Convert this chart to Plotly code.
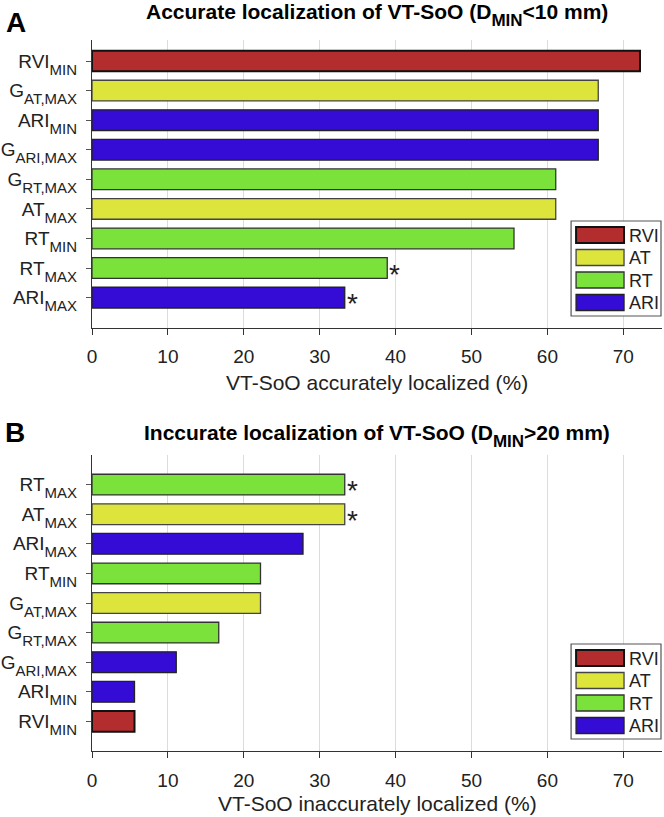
import plotly.graph_objects as go

# ---------------- data ----------------
top_names = [("RVI", "MIN"), ("G", "AT,MAX"), ("ARI", "MIN"), ("G", "ARI,MAX"),
             ("G", "RT,MAX"), ("AT", "MAX"), ("RT", "MIN"), ("RT", "MAX"), ("ARI", "MAX")]
top_values = [72.2, 66.7, 66.7, 66.7, 61.1, 61.1, 55.6, 38.9, 33.3]
top_groups = ["RVI", "AT", "ARI", "ARI", "RT", "AT", "RT", "RT", "ARI"]
top_sig = [False, False, False, False, False, False, False, True, True]

bot_names = [("RT", "MAX"), ("AT", "MAX"), ("ARI", "MAX"), ("RT", "MIN"), ("G", "AT,MAX"),
             ("G", "RT,MAX"), ("G", "ARI,MAX"), ("ARI", "MIN"), ("RVI", "MIN")]
bot_values = [33.3, 33.3, 27.8, 22.2, 22.2, 16.7, 11.1, 5.6, 5.6]
bot_groups = ["RT", "AT", "ARI", "RT", "AT", "RT", "ARI", "ARI", "RVI"]
bot_sig = [True, True, False, False, False, False, False, False, False]

legend_groups = ["RVI", "AT", "RT", "ARI"]
x_ticks = [0, 10, 20, 30, 40, 50, 60, 70]

top_title = ("Accurate localization of VT-SoO (D", "MIN", "<10 mm)")
bot_title = ("Inccurate localization of VT-SoO (D", "MIN", ">20 mm)")
top_xlabel = "VT-SoO accurately localized (%)"
bot_xlabel = "VT-SoO inaccurately localized (%)"

# ---------------- styles ----------------
colors = {"RVI": "#B32D2F", "AT": "#DDE53C", "RT": "#7AE23A", "ARI": "#340CD6"}
edge = {"RVI": "#111111", "AT": "#444444", "RT": "#333333", "ARI": "#222222"}
edgew = {"RVI": 2.0, "AT": 1.3, "RT": 1.3, "ARI": 1.3}
FONT = "Liberation Sans"


def subtxt(main, sub, sub_px=15, shift=-7, tail=""):
    return (main + '<span style="font-size:%dpx;baseline-shift:%dpx">%s</span>' % (sub_px, shift, sub) + tail)


top_labels = [subtxt(a, b) for a, b in top_names]
bot_labels = [subtxt(a, b) for a, b in bot_names]

W, H = 664, 817
ML, MR, MT, MB = 91.5, 2, 40, 66
PW, PH = W - ML - MR, H - MT - MB


def px2paper_x(px):
    return (px - ML) / PW


def px2paper_y(py):
    return (H - MB - py) / PH


fig = go.Figure()

pos = list(range(1, 10))
for vals, groups, xa, ya in [(top_values, top_groups, "x", "y"), (bot_values, bot_groups, "x2", "y2")]:
    fig.add_trace(go.Bar(
        x=vals, y=pos, orientation="h", width=0.7,
        marker=dict(color=[colors[g] for g in groups],
                    line=dict(color=[edge[g] for g in groups], width=[edgew[g] for g in groups])),
        xaxis=xa, yaxis=ya, showlegend=False, hoverinfo="x",
    ))

top_dom = [px2paper_y(327.5), 1.0]
bot_dom = [0.0, px2paper_y(455)]

axis_common = dict(range=[0, 75.1], tickvals=x_ticks, showgrid=True, gridcolor="#DCDCDC", gridwidth=1,
                   showline=True, linecolor="#333333", linewidth=1.2, ticks="outside", ticklen=6,
                   tickcolor="#333333", tickfont=dict(family=FONT, size=19, color="#222222"),
                   ticklabelstandoff=6, zeroline=False, fixedrange=True)
yaxis_common = dict(tickvals=pos, showgrid=False, showline=True, linecolor="#333333", linewidth=1.2,
                    ticks="outside", ticklen=5, tickcolor="#555555", ticklabelstandoff=5,
                    tickfont=dict(family=FONT, size=19, color="#222222"), zeroline=False, fixedrange=True)

fig.update_layout(
    width=W, height=H, margin=dict(l=ML, r=MR, t=MT, b=MB),
    paper_bgcolor="white", plot_bgcolor="white",
    xaxis=dict(**axis_common, anchor="y", domain=[0, 1]),
    xaxis2=dict(**axis_common, anchor="y2", domain=[0, 1]),
    yaxis=dict(**yaxis_common, ticktext=top_labels, range=[10.01, 0.29], domain=top_dom, anchor="x"),
    yaxis2=dict(**yaxis_common, ticktext=bot_labels, range=[10.0, 0.0], domain=bot_dom, anchor="x2"),
    showlegend=False,
)

ann = []
shapes = []

# axis titles
ann.append(dict(text=top_xlabel, xref="paper", yref="paper", x=0.5, y=px2paper_y(382), showarrow=False,
                font=dict(family=FONT, size=21, color="#222222"), xanchor="center", yanchor="middle"))
ann.append(dict(text=bot_xlabel, xref="paper", yref="paper", x=0.5, y=px2paper_y(803), showarrow=False,
                font=dict(family=FONT, size=21, color="#222222"), xanchor="center", yanchor="middle"))
# titles
for t, py in [(top_title, 15.5), (bot_title, 436)]:
    ann.append(dict(text="<b>" + subtxt(t[0], t[1], sub_px=17, shift=-7, tail=t[2]) + "</b>",
                    xref="paper", yref="paper", x=0.5, y=px2paper_y(py),
                    showarrow=False, font=dict(family=FONT, size=21, color="#000000"),
                    xanchor="center", yanchor="middle"))
# panel letters
ann.append(dict(text="<b>A</b>", xref="paper", yref="paper", x=px2paper_x(3), y=px2paper_y(23),
                showarrow=False, font=dict(family=FONT, size=28, color="#000000"), xanchor="left", yanchor="middle"))
ann.append(dict(text="<b>B</b>", xref="paper", yref="paper", x=px2paper_x(2), y=px2paper_y(432),
                showarrow=False, font=dict(family=FONT, size=28, color="#000000"), xanchor="left", yanchor="middle"))

# significance asterisks
for vals, sig, xr, yr in [(top_values, top_sig, "x", "y"), (bot_values, bot_sig, "x2", "y2")]:
    for i, (v, s) in enumerate(zip(vals, sig)):
        if s:
            ann.append(dict(text="*", xref=xr, yref=yr, x=v, y=pos[i], showarrow=False, xanchor="left",
                            yanchor="middle", xshift=0, yshift=-6,
                            font=dict(family=FONT, size=28, color="#222222")))

# custom legends (MATLAB-style wide swatches)
for top_px in [221, 644]:
    x0, x1 = 571, 661
    shapes.append(dict(type="rect", xref="paper", yref="paper", x0=px2paper_x(x0), x1=px2paper_x(x1),
                       y0=px2paper_y(top_px), y1=px2paper_y(top_px + 95), line=dict(color="#555555", width=1.2),
                       fillcolor="white", layer="above"))
    for k, g in enumerate(legend_groups):
        ry0 = top_px + 6 + k * 22.5
        shapes.append(dict(type="rect", xref="paper", yref="paper", x0=px2paper_x(576), x1=px2paper_x(624),
                           y0=px2paper_y(ry0), y1=px2paper_y(ry0 + 16), fillcolor=colors[g],
                           line=dict(color=edge[g], width=edgew[g]), layer="above"))
        ann.append(dict(text=g, xref="paper", yref="paper", x=px2paper_x(627), y=px2paper_y(ry0 + 8.5),
                        showarrow=False, xanchor="left", yanchor="middle",
                        font=dict(family=FONT, size=18, color="#222222")))

fig.update_layout(annotations=ann, shapes=shapes)
fig.write_html("out.html", config={"displayModeBar": False},
               post_script="document.body.style.margin='0px';")
